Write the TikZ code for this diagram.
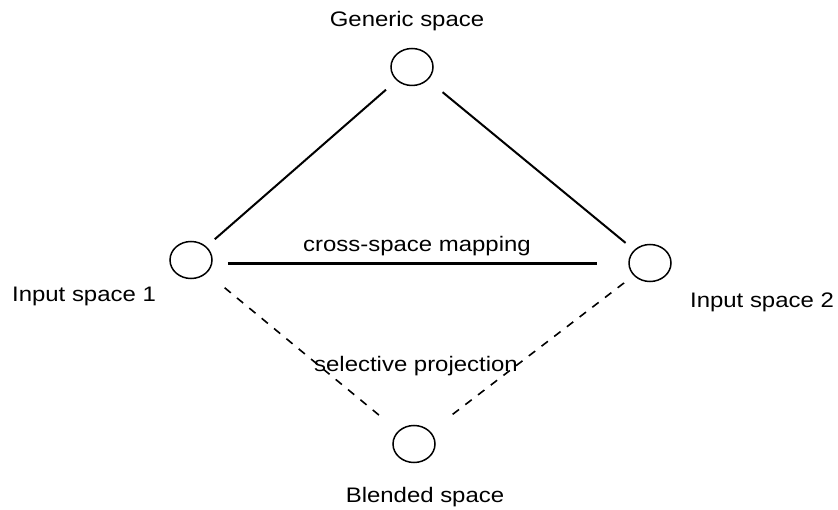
\documentclass[tikz,border=0pt]{standalone}
\usepackage{fontspec}
\usepackage{graphicx}
\setmainfont{Liberation Sans}
\usetikzlibrary{shapes.geometric}

\tikzset{
  spacenode/.style={draw, ellipse, line width=1.5pt, minimum width=42pt, minimum height=37pt, inner sep=0pt},
  lbl/.style={font=\fontsize{21}{24}\selectfont, inner sep=0pt, anchor=base},
  link/.style={line width=2pt},
  blendlink/.style={line width=1.6pt, dash pattern=on 8pt off 8pt}
}
\newcommand{\wide}[1]{\scalebox{1.14}[1]{#1}}

\begin{document}
\begin{tikzpicture}[x=1pt, y=-1pt]
  \useasboundingbox (0,0) rectangle (838,510);
  \node[spacenode] (Generic) at (412,67) {};
  \node[spacenode] (Input1)  at (191,260) {};
  \node[spacenode] (Input2)  at (650,263) {};
  \node[spacenode] (Blended) at (414,444) {};

  \node[lbl] (GenericLbl) at (407,27) {\wide{Generic space}};
  \node[lbl] (Input1Lbl)  at (84,302) {\wide{Input space 1}};
  \node[lbl] (Input2Lbl)  at (762,308) {\wide{Input space 2}};
  \node[lbl] (BlendedLbl) at (425,502) {\wide{Blended space}};
  \node[lbl] (CrossLbl)   at (417,252) {\wide{cross-space mapping}};
  \node[lbl] (SelLbl)     at (416,372) {\wide{selective projection}};

\draw[link, shorten <=14pt, shorten >=11pt] (Generic) -- (Input1);
 \draw[link, shorten <=19pt, shorten >=11pt] (Generic) -- (Input2);
 \draw[link, line width=3pt, shorten <=15pt, shorten >=31pt] (Input1.east |- 0,264) -- (Input2.west |- 0,264);
 \draw[blendlink, shorten <=23pt, shorten >=20pt] (Input1) -- (Blended);
 \draw[blendlink, shorten <=12pt, shorten >=23pt] (Input2) -- (Blended);
\end{tikzpicture}
\end{document}
